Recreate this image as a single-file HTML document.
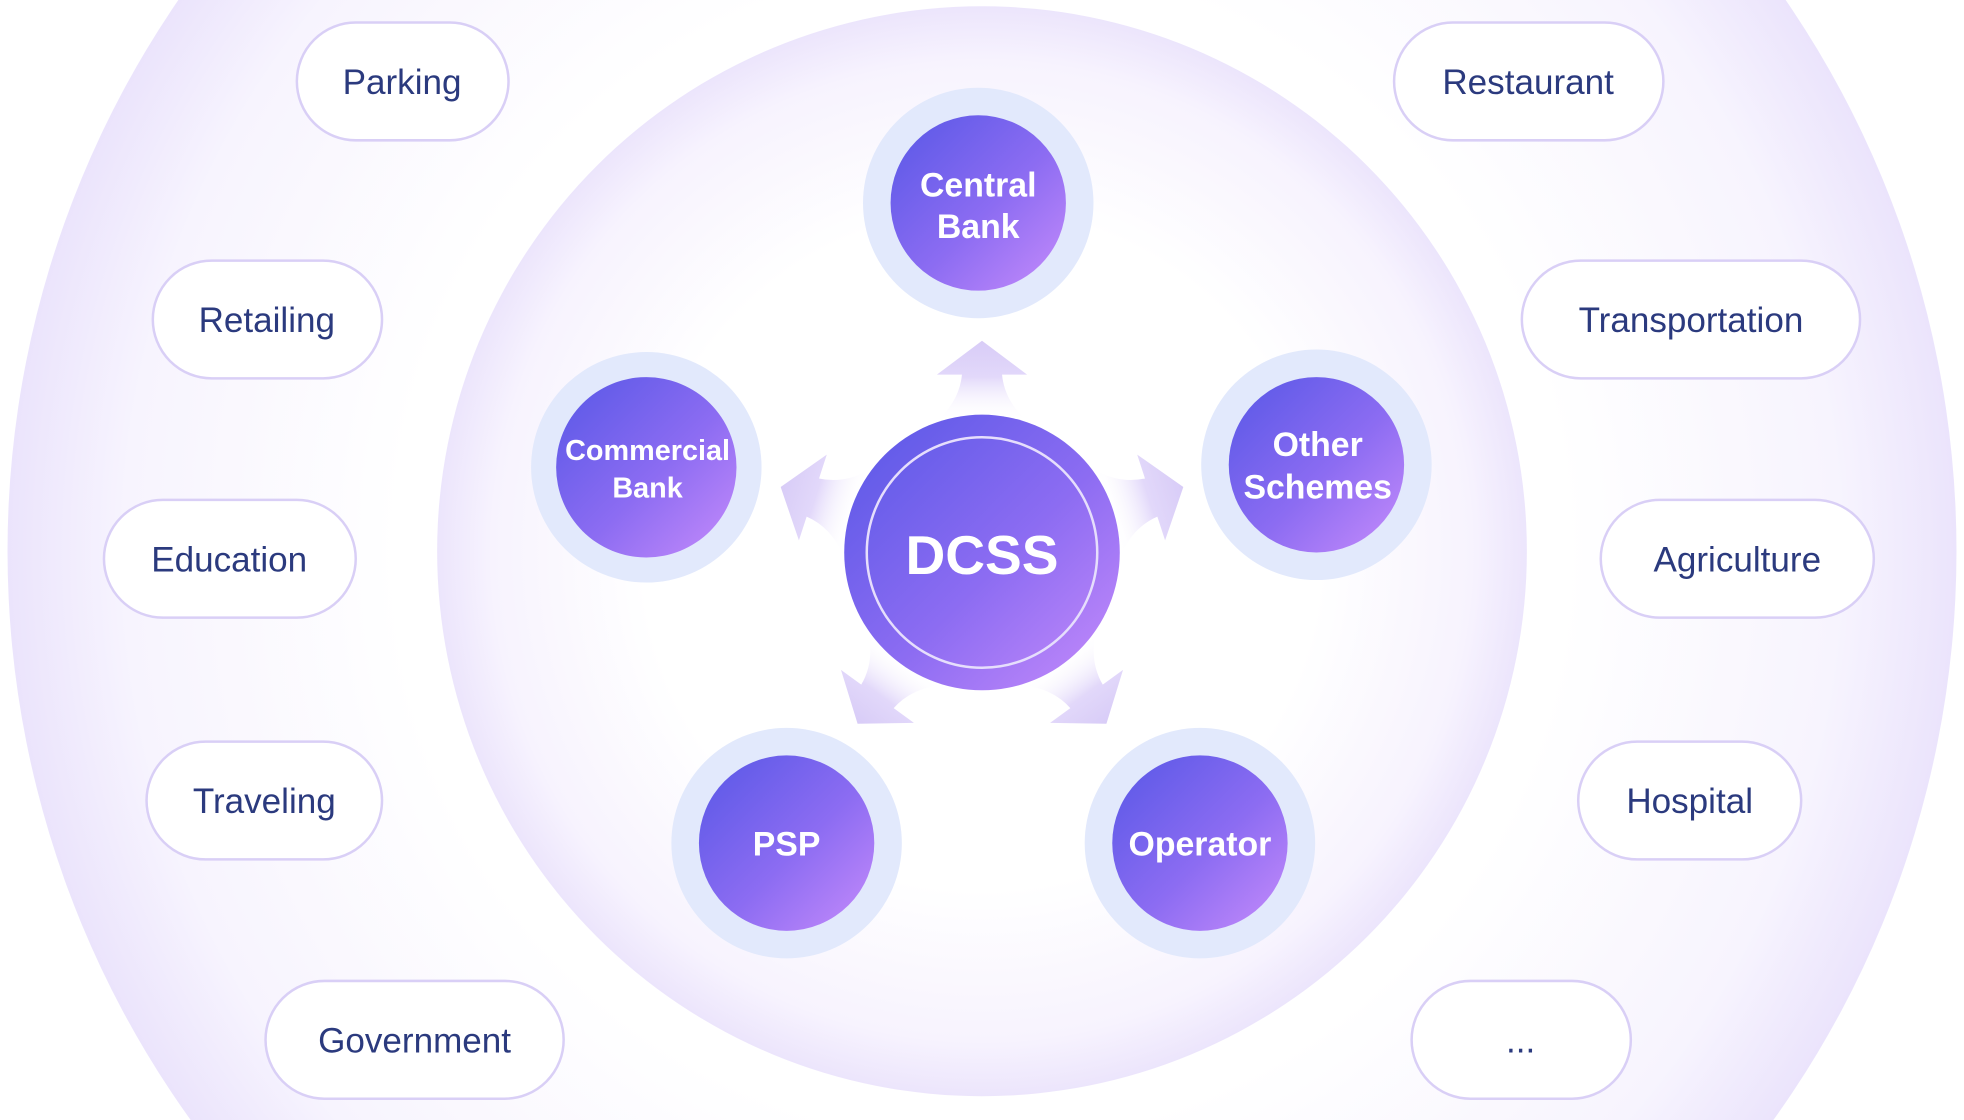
<!DOCTYPE html>
<html><head><meta charset="utf-8"><style>
html,body{margin:0;padding:0;background:#fff;width:1964px;height:1120px;overflow:hidden}
svg{display:block;position:absolute;left:0;top:0}
</style></head><body>
<svg width="1964" height="1120" viewBox="0 0 1568 894" preserveAspectRatio="none" xmlns="http://www.w3.org/2000/svg">
<defs>
<radialGradient id="outer" cx="784" cy="440" r="778" gradientUnits="userSpaceOnUse">
<stop offset="0.6" stop-color="#ffffff"/><stop offset="0.88" stop-color="#f7f4fe"/><stop offset="1" stop-color="#ebe4fc"/>
</radialGradient>
<radialGradient id="inner" cx="784" cy="440" r="435" gradientUnits="userSpaceOnUse">
<stop offset="0.62" stop-color="#ffffff"/><stop offset="0.9" stop-color="#f7f3fe"/><stop offset="1" stop-color="#ece5fc"/>
</radialGradient>
<linearGradient id="node" x1="0" y1="0" x2="1" y2="1">
<stop offset="0" stop-color="#5757e6"/><stop offset="0.55" stop-color="#8c6cf2"/><stop offset="1" stop-color="#c78cfb"/>
</linearGradient>
<linearGradient id="arr" x1="0" y1="0" x2="0" y2="1">
<stop offset="0" stop-color="#d8ccf7"/><stop offset="0.45" stop-color="#e2d8fa"/><stop offset="1" stop-color="#ffffff" stop-opacity="0"/>
</linearGradient>
<g id="arrow"><path d="M784,272 L820,299 L800,299 Q802,320 820,336 L748,336 Q766,320 768,299 L748,299 Z" fill="url(#arr)"/></g>
</defs>
<rect width="1568" height="894" fill="#fff"/>
<circle cx="784" cy="440" r="778" fill="url(#outer)"/>
<circle cx="784" cy="440" r="435" fill="url(#inner)"/>
<g font-family="Liberation Sans, sans-serif" font-size="28" fill="#2b3a7e" text-anchor="middle">
<g fill="#fff" stroke="#d9cff6" stroke-width="2">
<rect x="237" y="18" width="169" height="94" rx="47"/>
<rect x="122" y="208" width="183" height="94" rx="47"/>
<rect x="83" y="399" width="201" height="94" rx="47"/>
<rect x="117" y="592" width="188" height="94" rx="47"/>
<rect x="212" y="783" width="238" height="94" rx="47"/>
<rect x="1113" y="18" width="215" height="94" rx="47"/>
<rect x="1215" y="208" width="270" height="94" rx="47"/>
<rect x="1278" y="399" width="218" height="94" rx="47"/>
<rect x="1260" y="592" width="178" height="94" rx="47"/>
<rect x="1127" y="783" width="175" height="94" rx="47"/>
</g>
<text x="321" y="75">Parking</text>
<text x="213" y="265">Retailing</text>
<text x="183" y="456">Education</text>
<text x="211" y="649">Traveling</text>
<text x="331" y="840">Government</text>
<text x="1220" y="75">Restaurant</text>
<text x="1350" y="265">Transportation</text>
<text x="1387" y="456">Agriculture</text>
<text x="1349" y="649">Hospital</text>
<text x="1214" y="840">...</text>
</g>
<use href="#arrow"/>
<use href="#arrow" transform="rotate(72 784 441)"/>
<use href="#arrow" transform="rotate(-72 784 441)"/>
<use href="#arrow" transform="rotate(144 784 441)"/>
<use href="#arrow" transform="rotate(-144 784 441)"/>
<g fill="#e2e9fc">
<circle cx="781" cy="162" r="92"/><circle cx="516" cy="373" r="92"/><circle cx="1051" cy="371" r="92"/>
<circle cx="628" cy="673" r="92"/><circle cx="958" cy="673" r="92"/>
</g>
<g fill="url(#node)">
<circle cx="781" cy="162" r="70"/><circle cx="516" cy="373" r="72"/><circle cx="1051" cy="371" r="70"/>
<circle cx="628" cy="673" r="70"/><circle cx="958" cy="673" r="70"/>
<circle cx="784" cy="441" r="110"/>
</g>
<circle cx="784" cy="441" r="92" fill="none" stroke="#e6defc" stroke-width="2"/>
<g font-family="Liberation Sans, sans-serif" font-weight="bold" fill="#fff" text-anchor="middle">
<text x="781" y="157" font-size="27">Central</text><text x="781" y="190" font-size="27">Bank</text>
<text x="517" y="367" font-size="23">Commercial</text><text x="517" y="397" font-size="23">Bank</text>
<text x="1052" y="364" font-size="27">Other</text><text x="1052" y="398" font-size="27">Schemes</text>
<text x="628" y="683" font-size="27">PSP</text>
<text x="958" y="683" font-size="27">Operator</text>
<text x="784" y="458" font-size="44">DCSS</text>
</g>
</svg>
</body></html>
